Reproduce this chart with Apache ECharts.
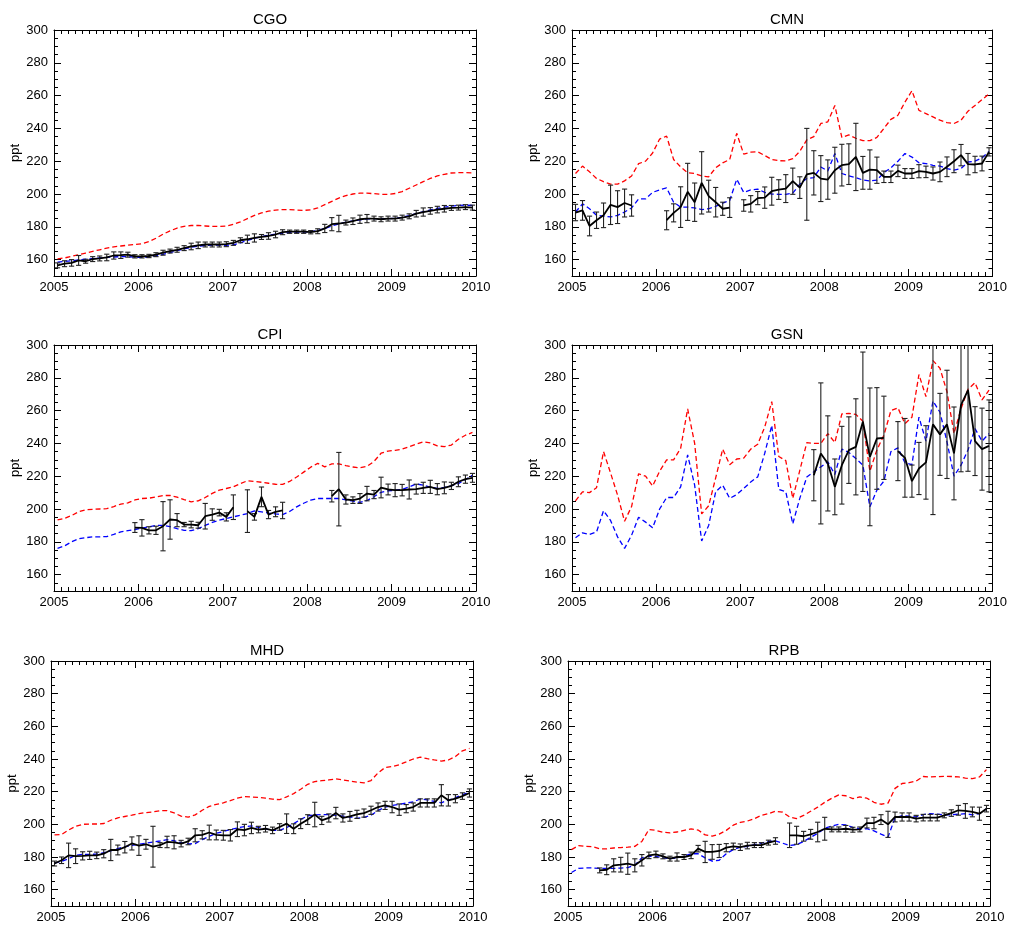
<!DOCTYPE html>
<html><head><meta charset="utf-8">
<script src="https://cdn.jsdelivr.net/npm/echarts@6/dist/echarts.min.js"></script>
<style>html,body{margin:0;padding:0;background:#fff}#c{width:1010px;height:925px}</style>
</head><body><div id="c"></div>
<script>
// ---------- data (monthly, Jan 2005 .. Dec 2009) ----------
const siteNames = ['CGO','CMN','CPI','GSN','MHD','RPB'];
const yTickValues = [160,180,200,220,240,260,280,300];
const N = null;

const cgoObs = [156.5,157.5,158,159.5,159,160.3,160.7,161.3,162.5,162.7, 163,162,162,162.2,163,164.2,165.2,166,167,168, 168.7,169.2,169.2,169.2,169.4,170.2,171.8,172.4,173.2,173.8, 174.4,175.3,176.7,177,177,177,176.7,177.3,179,181.6, 182,182.6,183.4,184.6,185,185,184.6,185,185,185.6, 186.4,188,189,189.7,190.5,191,191.5,191.7,192,191.7];
const cgoErr = [1.5,1.8,2,3,1.2,1.5,1.5,2,2.2,2, 1.5,1,1,1,1.2,1.5,1.2,1.5,1.5,2, 2,1.5,1.5,1.5,1.5,1.5,1.5,2.5,2.5,1.5, 2,2,1.5,1,1,1,1,1.5,2.5,4, 5,1.5,2,2.5,2.5,1.5,1.5,1.5,1.5,1.5, 1.5,2,2.5,2,2,2,1.5,1.5,1.5,1.5];
const cgoPrior = [160.5,161,162,163,164,165,166,167,167.8,168.3, 168.8,169.2,169.7,171,173,175.5,177.5,179.2,180.3,180.8, 180.8,180.5,180.2,180.2,180.5,181.5,183,185,187,188.5, 189.5,190.2,190.5,190.5,190.2,190,190.3,191.5,193.5,195.5, 197.5,199,200,200.5,200.5,200.2,199.8,199.8,200.3,201.5, 203.5,205.5,207.5,209.5,211,212,212.8,213,213,212.8];
const cgoPost = [158.5,158.8,159.3,159.8,160.2,160.6,161,161.3,161.6,161.8, 161.8,161.5,161.3,161.6,162.3,163.2,164.3,165.4,166.5,167.5, 168.2,168.6,168.8,168.8,168.7,169,170.2,171.7,173,174, 174.8,175.5,176.1,176.5,176.7,176.8,177,177.7,179,180.5, 181.8,182.8,183.6,184.3,184.8,185,185,185,185.2,185.8, 186.8,188,189.2,190.3,191.2,192,192.6,193,193.2,193];

const cmnObs = [188.7,190,180.5,184,187,193.4,192,194.5,193,N, N,N,N,184,188.5,192,201.3,195,206.8,198.7, 195,191,191.7,N,193,194,197.5,197.8,201.7,202.7, 203.3,207.8,203.9,212,212.9,209.4,208.8,214.5,217.6,218.2, 222.6,212.9,214.9,214.5,210.5,210.5,214.1,212.5,212.5,213.9, 213.5,212.5,213.5,216.6,220,223.7,218.2,218,218.6,225.7];
const cmnErr = [5,6,6,5,7.5,12,10,8.5,6.5,0, 0,0,0,5.8,5.5,12.4,17.4,11.7,19,9.7, 9,4,6,0,3.5,5,4,6.5,8.5,6, 8.5,8,6.6,28,13.5,14,12,14,12.7,12.4, 20.5,10,12,8,3.5,3.5,3.5,3,3,4, 3.5,4,6,6,7,6.5,6.5,5,4.5,2.5];
const cmnPrior = [212.5,217,213.5,209.5,207.5,206,206,208,211,218.5, 220,225,233.5,235.3,221,216.5,213,212.5,211,210.5, 216,219,221,237,224.3,225.5,225.7,223.5,221,220.3, 220.2,221.5,226,233,235,243,244,254,234.5,236, 234,232.5,232.5,234.5,240,245.5,248,256,263,251, 249,247,245,243.5,243,245,250.5,254,257.5,261];
const cmnPost = [189,194,191,187,186.5,186,187,189,191.5,197, 197,201,202.5,203.7,195,192,192,191.5,190.5,191, 192.5,194.5,196,209,201,202.5,203,201,200,199.8, 199.8,200.5,206,209.5,210,216.5,214,224.7,212.5,211, 210,208.5,208,208.5,213,216,220,224.7,222.5,219, 218.5,217.5,217,215.5,214.5,215.5,219.5,220,222,226];

const cpiObs = [N,N,N,N,N,N,N,N,N,N, N,188.7,188.5,187,187,189.5,193.6,193.2,190.5,190.5, 190.1,195.6,196.6,197.8,195.2,201.1,N,198.7,195.2,207.4, 196.6,198.3,199.1,N,N,N,N,N,N,207.8, 212.1,205.8,205.4,206.4,209.4,208.8,213.1,211.9,211.5,211.5, 211.9,212.1,212.9,213.5,212.1,212.9,214.1,216.6,218.2,219];
const cpiErr = [0,0,0,0,0,0,0,0,0,0, 0,3,5,2.2,2.5,15,12,4,1.3,2, 1.8,7.8,3.5,2,2.5,7.5,0,13,2,6, 2.5,3,5,0,0,0,0,0,0,3.5, 22.4,2.8,2,3,4.4,2.5,6.3,3.3,4,3.5, 5.8,3,3.4,4,3.4,3.6,2.2,3,2.5,2.7];
const cpiPrior = [193.3,194.3,196,198.3,199.5,199.8,200,200.2,201.5,203, 203.7,205.5,206.4,206.6,207.3,208.2,208.3,207.2,205.7,204.4, 205,207,209.5,211.5,212.5,213.5,215.5,217.2,216.8,216.3, 215.7,215.1,215,216.8,219.5,222.5,225.5,227.8,225.7,227.5, 227.5,226.5,225.6,225.1,226,229,234,235.3,235.8,236.5, 238,239.5,241,240.3,238.5,238,239,242.5,245,246.7];
const cpiPost = [176,177.5,180,181.8,182.5,183,183,183.2,184.5,186, 186.8,187.5,188.3,189.2,190,190,189.3,188,187,186.8, 188,190,191.8,193.2,194.2,195.2,196.2,197.2,198.8,198.2, 197.5,197,196.6,198.5,201.3,203.5,205.4,206.4,206.4,206.4, 206.4,205.6,204.8,204,205.2,207.5,210.2,211,211.5,212, 213.5,215.3,214.5,213.3,212.6,213.2,214.2,215.5,218,220.6];

const gsnObs = [N,N,N,N,N,N,N,N,N,N, N,N,N,N,N,N,N,N,N,N, N,N,N,N,N,N,N,N,N,N, N,N,N,N,220.6,233.9,227.8,213.5,226.7,235.9, 237.9,253.2,231.8,243,243.4,N,235.3,231.2,217,224.7, 228.4,251.6,245.5,251.6,233.9,263.4,272.5,241.4,236.5,238.5];
const gsnErr = [0,0,0,0,0,0,0,0,0,0, 0,0,0,0,0,0,0,0,0,0, 0,0,0,0,0,0,0,0,0,0, 0,0,0,0,15.6,43,29,17,23.7,20.3, 29.3,42.5,42,31,25.4,0,18,24,9.8,15.9, 22.4,55,25,33,28.3,40.7,49.5,21,25,28];
const gsnPrior = [205,210.5,210,213,235,222,208.5,192.5,201.5,221.5, 220,214,223,230,230,237,261,240,197,202, 219,236.5,227,230.5,231,236.5,239.5,250,265.5,232, 229.5,206.5,223.5,240.5,240,240,246,240.5,258,258.3, 257.7,253.5,223,236,245,260,261.7,252,256,282, 268.5,290.5,285.8,271.5,246,261,273,277,266.5,272.5];
const gsnPost = [182.5,185.5,184.5,186,199,193,183,176,184,195, 192,188.5,200,207,207,213.5,233,214.5,180.5,190, 210.5,214.5,206.5,208.8,212.5,216.5,219.6,234,251,212, 210.5,191,206.5,219.5,222.7,225.7,228.8,221,236.5,234.5, 230.8,226.7,201.3,211.5,217,235,237.3,228.2,227,256, 241.4,265.8,259,241,220,226.7,236,249,241.4,246];

const mhdObs = [176,178,181,180.5,180.7,181,181,182,184.3,184.3, 186,188.3,187,187.8,186.3,187.3,189.2,189,188.2,189.5, 193.3,193.6,195,193.5,193.3,193.3,197,196.5,197.8,196.8, 197.3,196.3,198.4,200.4,197.3,200.4,202.9,206,202.4,203.9, 206.9,203.9,204.9,206.1,206.9,208.6,210.6,211.6,210.6,209, 209.6,210.6,213.1,213.1,213.1,217.8,214.7,215.7,217.3,219.2];
const mhdErr = [1.5,2,7.5,4.5,2.5,2.5,2,2.5,6.5,3, 3.5,4,6,3,12.5,1.5,3.5,4,2,2, 4,2.5,4.5,3,3,3.5,4.5,3.5,3.5,2, 2,2,2,6,3,3,3,7.5,2.5,2.5, 3.5,2.5,3,2.5,2.5,2.5,2.5,2.5,3.5,3.5, 2.5,2.5,2.5,2.5,2.5,6.5,3.5,2.5,2,2.5];
const mhdPrior = [193.5,193.8,196.5,198.8,200,200.2,200.2,200.5,202.5,204, 204.8,205.6,206.6,207.2,207.6,208.3,208.4,207,205,204.4, 205.8,208.6,211,212.2,213.2,214.5,216,217,216.7,216.5, 216,215.4,215.1,216.8,218.8,221.5,224.5,226.2,226.7,227.2, 227.8,227.2,226.5,225.8,225.4,226.8,231.5,234.8,235.4,236.5, 238.2,240,241.2,240.2,239.4,238.7,239.4,241.5,245,246.5];
const mhdPost = [176.3,177.3,179,181,181.6,181.6,181.8,182.6,183.8,185.2, 186.3,187.2,187.8,188.5,189.2,189.8,190.6,190,188.8,188, 188.2,190.6,192.6,194.5,195.6,196.8,197.8,198.6,199,198.1, 197.2,196.3,196.3,198,200.4,203,205.2,205.8,205.9,205.9, 205.5,205,204.5,203.7,204.3,205.5,208.5,210.5,211.5,212.2, 213,213.7,215.5,215,214,213.2,214.8,216.3,218,219.8];

const rpbObs = [N,N,N,N,171.8,172.2,174.9,175.3,175.9,174.9, 178,181,181.6,180.4,179,180,180,181,185.1,183.1, 183.1,183.7,185.7,186.5,186,187,187.3,187.3,188.8,189.8, N,193.3,193.3,192.7,193.9,195.3,197.3,196.9,196.9,197.3, 196.7,196.9,200.8,200.8,202.9,200,204.5,204.5,204.5,203.5, 204.1,204.1,204.1,205.5,206.9,208.6,208.2,207.6,206.5,209.6];
const rpbErr = [0,0,0,0,1.5,3,4,4.5,6.5,4, 3.5,2,2,1.5,1.5,2.5,1.5,2,2,6.5, 4.5,4,2.5,2,2,2,1.5,1.5,1.5,2, 0,7.5,5.5,3,3,6,7,1.5,1.5,2, 1.5,1.5,3,3.5,3,8,3,2.5,2.5,2, 2,2,2,1.5,2,3,4.5,3,4,2];
const rpbPrior = [184.5,187,186.5,186.3,185,185,185.5,185.8,186,186.5, 189.5,196.8,196.3,195.2,194.8,195.3,196.3,197.2,196.5,193.5, 192.8,194,196.3,199.5,201.2,202,203.5,205.5,206.5,208, 207.5,204.5,203.5,205.5,208,210.5,213.5,216,218,217.5, 215.7,216.8,216,213.5,212.3,213,222,225,225.5,226.5, 229.3,229,229.2,229.4,229.3,229,228.3,228,229,233.5];
const rpbPost = [170.5,173,173.3,173.3,173,173,173,173.2,173.5,175, 179.5,180.5,180.3,179.5,179,179.5,180.5,182,182,179.5, 177.5,178,182,184.5,186,186.5,187.5,188.5,189.5,189.8, 188.5,187,187.6,189.5,192,194.5,197.5,199,200,199.6, 198.2,197.2,197.3,196,194,192.2,204,205.3,205,204.5, 206,206.5,206.3,205.8,205.9,206.2,206.5,205.8,206.5,209.6];

const sites = [
  {obs:cgoObs, err:cgoErr, prior:cgoPrior, post:cgoPost},
  {obs:cmnObs, err:cmnErr, prior:cmnPrior, post:cmnPost},
  {obs:cpiObs, err:cpiErr, prior:cpiPrior, post:cpiPost},
  {obs:gsnObs, err:gsnErr, prior:gsnPrior, post:gsnPost},
  {obs:mhdObs, err:mhdErr, prior:mhdPrior, post:mhdPost},
  {obs:rpbObs, err:rpbErr, prior:rpbPrior, post:rpbPost}
];

// ---------- layout ----------
const FONT = "'Liberation Sans', Arial, Helvetica, sans-serif";
const rects = [
  {left:54,  top:30,  width:422, height:246, tx:265, ty:7},
  {left:572, top:30,  width:421, height:246, tx:782, ty:7},
  {left:54,  top:345, width:422, height:246, tx:265, ty:322},
  {left:572, top:345, width:421, height:246, tx:782, ty:322},
  {left:51,  top:661, width:422, height:245, tx:262, ty:638},
  {left:568, top:661, width:422, height:245, tx:779, ty:638}
];
const xOf = i => 2005 + (i + 0.5) / 12;

const grid = [], xAxis = [], yAxis = [], series = [], title = [];
const black = '#000';
rects.forEach((r, g) => {
  grid.push({left:r.left, top:r.top, width:r.width, height:r.height, show:false});
  title.push({text:siteNames[g], left:r.tx, top:r.ty, textAlign:'center',
    textStyle:{fontSize:15, fontWeight:'normal', fontFamily:FONT, color:black}});
  ['bottom','top'].forEach(pos => {
    xAxis.push({gridIndex:g, type:'value', min:2005, max:2010, interval:1, position:pos,
      axisLine:{show:true, onZero:false, lineStyle:{color:black, width:1}},
      axisTick:{show:true, inside:true, length:7, lineStyle:{color:black, width:1}},
      minorTick:{show:true, splitNumber:12, length:4, lineStyle:{color:black, width:1}},
      axisLabel:{show:pos==='bottom', color:black, fontSize:13, fontFamily:FONT, margin:5,
        showMinLabel:true, showMaxLabel:true, formatter:v => String(v)},
      splitLine:{show:false}, minorSplitLine:{show:false}});
  });
  ['left','right'].forEach(pos => {
    yAxis.push({gridIndex:g, type:'value', min:150, max:300, interval:5, position:pos,
      name: pos==='left' ? 'ppt' : '', nameLocation:'middle', nameGap:32,
      nameTextStyle:{color:black, fontSize:13, fontFamily:FONT},
      axisLine:{show:true, onZero:false, lineStyle:{color:black, width:1}},
      axisTick:{show:true, inside:true, length:7, customValues:yTickValues, lineStyle:{color:black, width:1}},
      axisLabel:{show:pos==='left', customValues:yTickValues, color:black, fontSize:13, fontFamily:FONT, margin:6,
        formatter:v => String(v)},
      splitLine:{show:false}});
    yAxis.push({gridIndex:g, type:'value', min:150, max:300, interval:5, position:pos,
      axisLine:{show:false, onZero:false},
      axisTick:{show:true, inside:true, length:4, lineStyle:{color:black, width:1}},
      axisLabel:{show:false}, splitLine:{show:false}});
  });

  const s = sites[g];
  const xi = 2*g, yi = 4*g;
  series.push({type:'line', xAxisIndex:xi, yAxisIndex:yi, symbol:'none', z:2,
    data:s.prior.map((v,i) => [xOf(i), v]),
    lineStyle:{color:'#ff0000', width:1.3, type:[5,3]}});
  series.push({type:'line', xAxisIndex:xi, yAxisIndex:yi, symbol:'none', z:3,
    data:s.post.map((v,i) => [xOf(i), v]),
    lineStyle:{color:'#0000ff', width:1.3, type:[5,3]}});
  const eb = [];
  s.obs.forEach((v,i) => { if (v != null) eb.push([xOf(i), v - s.err[i], v + s.err[i]]); });
  series.push({type:'custom', xAxisIndex:xi, yAxisIndex:yi, clip:true, z:4,
    encode:{x:0, y:[1,2]}, data:eb,
    renderItem:(params, api) => {
      const x = api.value(0);
      const lo = api.coord([x, api.value(1)]);
      const hi = api.coord([x, api.value(2)]);
      const hw = 2.6;
      const st = {stroke:'#222', lineWidth:1.1};
      return {type:'group', children:[
        {type:'line', shape:{x1:lo[0], y1:lo[1], x2:hi[0], y2:hi[1]}, style:st},
        {type:'line', shape:{x1:lo[0]-hw, y1:lo[1], x2:lo[0]+hw, y2:lo[1]}, style:st},
        {type:'line', shape:{x1:hi[0]-hw, y1:hi[1], x2:hi[0]+hw, y2:hi[1]}, style:st}
      ]};
    }});
  series.push({type:'line', xAxisIndex:xi, yAxisIndex:yi, symbol:'none', z:5, connectNulls:false,
    data:s.obs.map((v,i) => [xOf(i), v == null ? '-' : v]),
    lineStyle:{color:black, width:1.8}});
});

const chart = echarts.init(document.getElementById('c'), null, {renderer:'canvas'});
chart.setOption({animation:false, backgroundColor:'#fff', title, grid, xAxis, yAxis, series});
</script></body></html>
